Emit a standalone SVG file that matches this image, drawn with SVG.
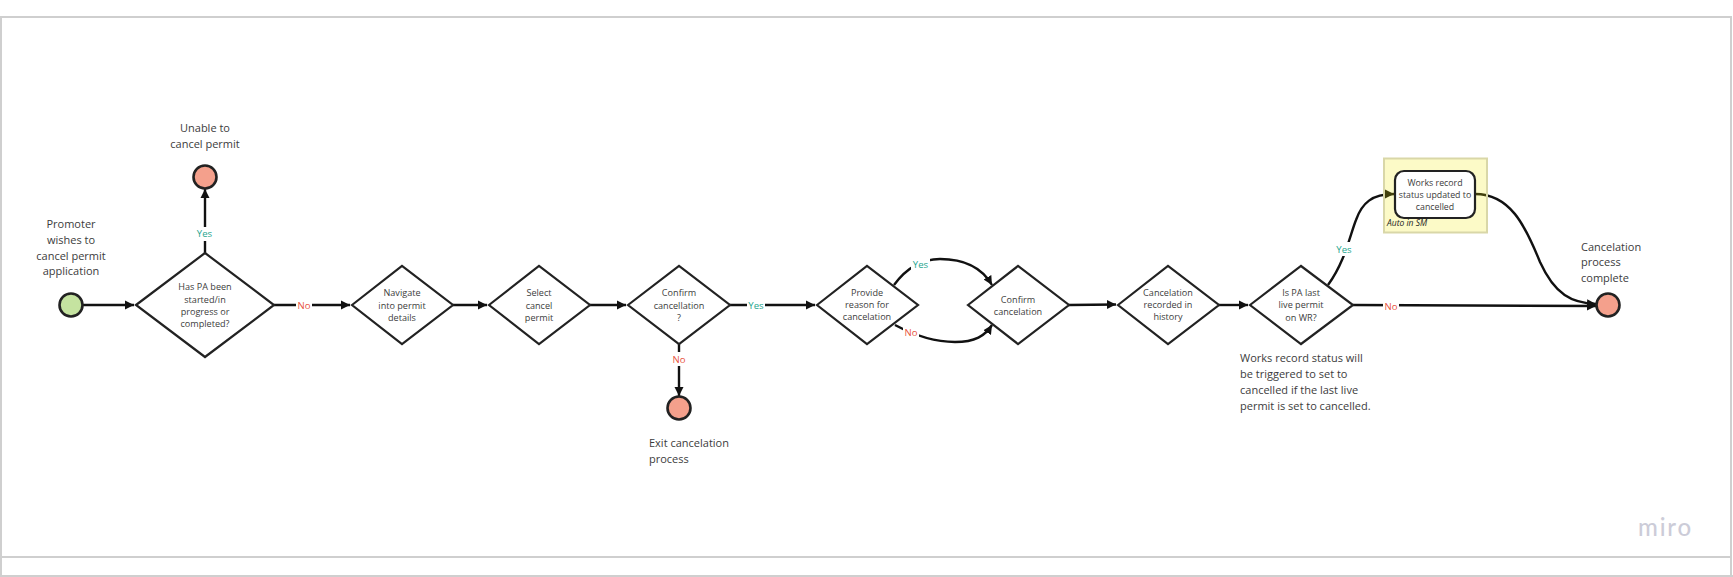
<svg xmlns="http://www.w3.org/2000/svg" width="1733" height="577" viewBox="0 0 1733 577">
<defs>
<marker id="arrow" markerUnits="userSpaceOnUse" markerWidth="12" markerHeight="12" refX="9" refY="6" orient="auto"><path d="M0 1.500 L9 6 L0 10.500 Z" fill="#111"/></marker>
</defs>
<style>
text{font-family:"Open Sans","Noto Sans","DejaVu Sans",sans-serif;fill:#3c3c3c}
.frame{fill:none;stroke:#cfcfcf;stroke-width:2}
.d{fill:#fff;stroke:#222;stroke-width:2.200;stroke-linejoin:miter}
.c{stroke:#222;stroke-width:2.600}
.green{fill:#c5e3a0}
.red{fill:#f4a08c}
.l{font-size:11px}
.s{font-size:9.100px;text-anchor:middle}
.w{font-size:8.800px;text-anchor:middle}
.m{text-anchor:middle}
.lab{font-size:9.600px;text-anchor:middle}
.y{fill:#1fa58e}
.n{fill:#e8533c}
.con path{fill:none;stroke:#111;stroke-width:2.400;marker-end:url(#arrow)}
.gap{fill:#fff}
</style>
<rect width="1733" height="577" fill="#fff"/>
<g id="frame">
<path class="frame" d="M1 577 V17 H1731 V577"/>
<path class="frame" d="M0 557 H1731 M0 576 H1733"/>
<text x="1638" y="536" font-size="24" font-weight="500" letter-spacing="1.800" style="font-family:Lato,'Open Sans',sans-serif;fill:#ccccd8">miro</text>
</g>
<g id="connectors" class="con">
<path d="M83 305 H134"/>
<path d="M205 253 V189"/>
<path d="M274 305 H350"/>
<path d="M453 305 H487"/>
<path d="M590 305 H626"/>
<path d="M730 305 H815"/>
<path d="M679 344 V396"/>
<path d="M894 285 C905 270 920 259 940 259 C965 259 982 268 992 285"/>
<path d="M895 325 C910 333 930 342 955 342 C975 342 985 336 992 325"/>
<path d="M1069 305 L1116 304.500"/>
<path d="M1219 305 H1248"/>
<path d="M1328 285 C1345 262 1350 235 1356 220 C1362 203 1372 194 1394 194"/>
<path d="M1353 305 L1596 306"/>
<path d="M1475 194 C1510 194 1525 225 1540 262 C1555 295 1572 303 1596 304"/>
</g>
<g id="labels">
<rect class="gap" x="196" y="227" width="18" height="14"/><text class="lab y" x="204.500" y="237">Yes</text>
<rect class="gap" x="296" y="298" width="16" height="14"/><text class="lab n" x="304" y="308.500">No</text>
<rect class="gap" x="747" y="298" width="18" height="14"/><text class="lab y" x="756" y="308.500">Yes</text>
<rect class="gap" x="671" y="352" width="16" height="14"/><text class="lab n" x="679" y="362.500">No</text>
<rect class="gap" x="911" y="257" width="19" height="14"/><text class="lab y" x="920.500" y="267.500">Yes</text>
<rect class="gap" x="903" y="325" width="16" height="14"/><text class="lab n" x="911" y="335.500">No</text>
<rect class="gap" x="1335" y="242" width="18" height="14"/><text class="lab y" x="1344" y="252.500">Yes</text>
<rect class="gap" x="1383" y="299" width="16" height="14"/><text class="lab n" x="1391" y="309.500">No</text>
</g>
<g id="start"><circle class="c green" cx="71" cy="305" r="11.500"/>
<text class="l m"><tspan x="71" y="228">Promoter</tspan><tspan x="71" y="244">wishes to</tspan><tspan x="71" y="260">cancel permit</tspan><tspan x="71" y="275">application</tspan></text></g>
<g id="unable"><circle class="c red" cx="205" cy="177" r="11.500"/>
<text class="l m"><tspan x="205" y="132">Unable to</tspan><tspan x="205" y="148">cancel permit</tspan></text></g>
<g id="d1"><path class="d" d="M136 305 L205 253 L274 305 L205 357 Z"/>
<text class="s"><tspan x="205" y="290">Has PA been</tspan><tspan x="205" y="303">started/in</tspan><tspan x="205" y="315">progress or</tspan><tspan x="205" y="327">completed?</tspan></text></g>
<g id="d2"><path class="d" d="M352 305 L402 266 L453 305 L402 344 Z"/>
<text class="s"><tspan x="402" y="296">Navigate</tspan><tspan x="402" y="309">into permit</tspan><tspan x="402" y="321">details</tspan></text></g>
<g id="d3"><path class="d" d="M489 305 L539 266 L590 305 L539 344 Z"/>
<text class="s"><tspan x="539" y="296">Select</tspan><tspan x="539" y="309">cancel</tspan><tspan x="539" y="321">permit</tspan></text></g>
<g id="d4"><path class="d" d="M628 305 L679 266 L730 305 L679 344 Z"/>
<text class="s"><tspan x="679" y="296">Confirm</tspan><tspan x="679" y="309">cancellation</tspan><tspan x="679" y="321">?</tspan></text></g>
<g id="exit"><circle class="c red" cx="679" cy="408" r="11.500"/>
<text class="l"><tspan x="649" y="447">Exit cancelation</tspan><tspan x="649" y="463">process</tspan></text></g>
<g id="d5"><path class="d" d="M817 305 L867 266 L918 305 L867 344 Z"/>
<text class="s"><tspan x="867" y="296">Provide</tspan><tspan x="867" y="308">reason for</tspan><tspan x="867" y="320">cancelation</tspan></text></g>
<g id="d6"><path class="d" d="M968 305 L1018 266 L1069 305 L1018 344 Z"/>
<text class="s"><tspan x="1018" y="303">Confirm</tspan><tspan x="1018" y="315">cancelation</tspan></text></g>
<g id="d7"><path class="d" d="M1118 305 L1168 266 L1219 305 L1168 344 Z"/>
<text class="s"><tspan x="1168" y="296">Cancelation</tspan><tspan x="1168" y="308">recorded in</tspan><tspan x="1168" y="320">history</tspan></text></g>
<g id="d8"><path class="d" d="M1250 305 L1301 266 L1353 305 L1301 344 Z"/>
<text class="s"><tspan x="1301" y="296">Is PA last</tspan><tspan x="1301" y="308">live permit</tspan><tspan x="1301" y="321">on WR?</tspan></text></g>
<g id="note"><text class="l"><tspan x="1240" y="362">Works record status will</tspan><tspan x="1240" y="378">be triggered to set to</tspan><tspan x="1240" y="394">cancelled if the last live</tspan><tspan x="1240" y="410">permit is set to cancelled.</tspan></text></g>
<g id="auto"><rect x="1384" y="158.500" width="103" height="74" fill="#f0ea00" fill-opacity=".22" stroke="#d9d7a8" stroke-width="2"/>
<text x="1387" y="226" font-size="8.500" font-style="italic" style="fill:#222">Auto in SM</text></g>
<g id="works"><rect x="1395" y="171" width="80" height="47" rx="9" fill="#fff" stroke="#222" stroke-width="2.200"/>
<text class="w"><tspan x="1435" y="186">Works record</tspan><tspan x="1435" y="198">status updated to</tspan><tspan x="1435" y="210">cancelled</tspan></text></g>
<g id="end"><circle class="c red" cx="1608" cy="305" r="11.500"/>
<text class="l"><tspan x="1581" y="251">Cancelation</tspan><tspan x="1581" y="266">process</tspan><tspan x="1581" y="282">complete</tspan></text></g>
</svg>
